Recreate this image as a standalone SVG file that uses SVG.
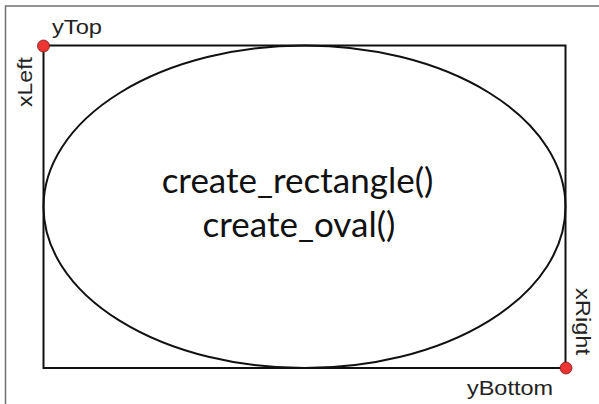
<svg xmlns="http://www.w3.org/2000/svg" width="599" height="404" viewBox="0 0 599 404">
<style>
.shape{fill:none;stroke:#111;stroke-width:2}
.dot{fill:#ee3333;stroke:#7a1a1a;stroke-width:0.8}
.lbl{font-family:"Liberation Sans",Arial,sans-serif;font-size:21px;fill:#222}
.code{font-family:Lato,"Open Sans",sans-serif;font-size:35px;fill:#111;text-anchor:middle}
</style>
<rect width="599" height="404" fill="#fff"/>
<path d="M5.5 404 V6 H599" fill="none" stroke="#707070" stroke-width="1.5"/>
<g id="rect"><rect class="shape" x="43.5" y="45.5" width="522" height="322.5"/></g>
<g id="oval"><ellipse class="shape" cx="304.5" cy="206.8" rx="261" ry="161.3"/></g>
<g id="code-text">
<text class="code" x="297.5" y="193">create_rectangle()</text>
<text class="code" x="299" y="237">create_oval()</text>
</g>
<g id="topleft">
<circle class="dot" cx="43.5" cy="46" r="6"/>
<text class="lbl" x="52" y="34" textLength="50" lengthAdjust="spacingAndGlyphs">yTop</text>
<text class="lbl" transform="translate(32,107) rotate(-90)" textLength="50" lengthAdjust="spacingAndGlyphs">xLeft</text>
</g>
<g id="bottomright">
<circle class="dot" cx="566" cy="368" r="6"/>
<text class="lbl" x="467" y="395" textLength="86" lengthAdjust="spacingAndGlyphs">yBottom</text>
<text class="lbl" transform="translate(576,288) rotate(90)" textLength="67" lengthAdjust="spacingAndGlyphs">xRight</text>
</g>
<g id="connectors"/>
</svg>
